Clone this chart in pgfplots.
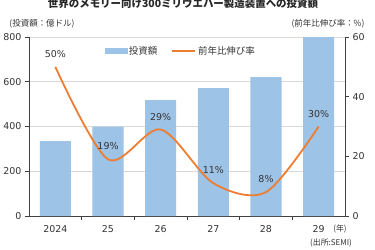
\documentclass[border=0pt]{standalone}
\usepackage{pgfplots}
\pgfplotsset{compat=1.18}
\usepackage{fontspec}
\setmainfont{DejaVu Sans}
\newfontfamily\jp{Noto Sans CJK JP}
\definecolor{barblue}{HTML}{9DC3E6}
\definecolor{lineorange}{HTML}{ED7D31}
\definecolor{txt}{HTML}{333333}
\definecolor{gridc}{HTML}{D9D9D9}
\begin{document}
\begin{tikzpicture}[x=1bp,y=1bp]
\useasboundingbox (-29,-34) rectangle (346,216);
\pgfplotsset{
  every axis/.append style={
    scale only axis, width=316bp, height=179bp,
    at={(0,0)}, anchor=south west,
    xmin=-0.5, xmax=5.5,
    /pgf/number format/assume math mode=true,
    tick label style={font=\fontsize{9.5}{11}\selectfont, text=txt},
    axis line style={draw=black!75, line width=0.6pt},
    tick style={draw=black!75, line width=0.6pt},
    major tick length=4bp,
  }
}
\begin{axis}[
  axis y line*=left, axis x line*=bottom,
  ymin=0, ymax=800, ytick={0,200,400,600,800},
  ymajorgrids, grid style={gridc, line width=0.6pt},
  xtick={0,...,5}, xticklabels={2024,25,26,27,28,29},
  major x tick style={draw=none},
  minor xtick={0.5,1.5,2.5,3.5,4.5},
  minor tick length=4bp,
  minor x tick style={draw=black!75, line width=0.6pt},
  tick align=outside,
  xticklabel style={yshift=-2bp},
]
\addplot[ybar, bar width=0.59, fill=barblue, draw=none] coordinates {
(0,335) (1,400) (2,518) (3,572) (4,621) (5,800)};
\end{axis}
\begin{axis}[
  axis y line*=right, axis x line=none,
  ymin=0, ymax=60, ytick={0,20,40,60},
  tick align=outside,
  legend style={at={(0.48,0.922)}, anchor=center, draw=none, fill=none,
    legend columns=2, font=\jp\fontsize{9.5}{11}\selectfont, text=txt,
    /tikz/every even column/.append style={column sep=12bp}},
  legend cell align=left,
]
\addlegendimage{legend image code/.code={\fill[barblue] (0bp,-2.6bp) rectangle (22bp,2.6bp);}}
\addlegendentry{投資額}
\addplot[lineorange, line width=1.8pt, smooth, mark=none,
  legend image code/.code={\draw[lineorange, line width=1.8pt] (0bp,0bp) -- (23bp,0bp);},
  nodes near coords={\pgfmathprintnumber{\pgfplotspointmeta}\%},
  point meta=y,
  every node near coord/.append style={font=\fontsize{9.5}{11}\selectfont, text=txt, yshift=5bp}]
 coordinates {(0,50) (1,19) (2,29) (3,11) (4,8) (5,30)};
\addlegendentry{前年比伸び率}
\end{axis}
\node[font=\jp\bfseries\fontsize{10.5}{12}\selectfont, text=black!85] at (154,212) {世界のメモリー向け300ミリウエハー製造装置への投資額};
\node[font=\jp\fontsize{8.5}{10}\selectfont, text=txt] at (13,192) {(投資額：億ドル)};
\node[font=\jp\fontsize{8.5}{10}\selectfont, text=txt] at (299,192) {(前年比伸び率：\%)};
\node[font=\jp\fontsize{8}{10}\selectfont, text=txt] at (311,-13) {(年)};
\node[font=\jp\fontsize{8}{10}\selectfont, text=txt] at (302,-27) {(出所:SEMI)};
\end{tikzpicture}
\end{document}
